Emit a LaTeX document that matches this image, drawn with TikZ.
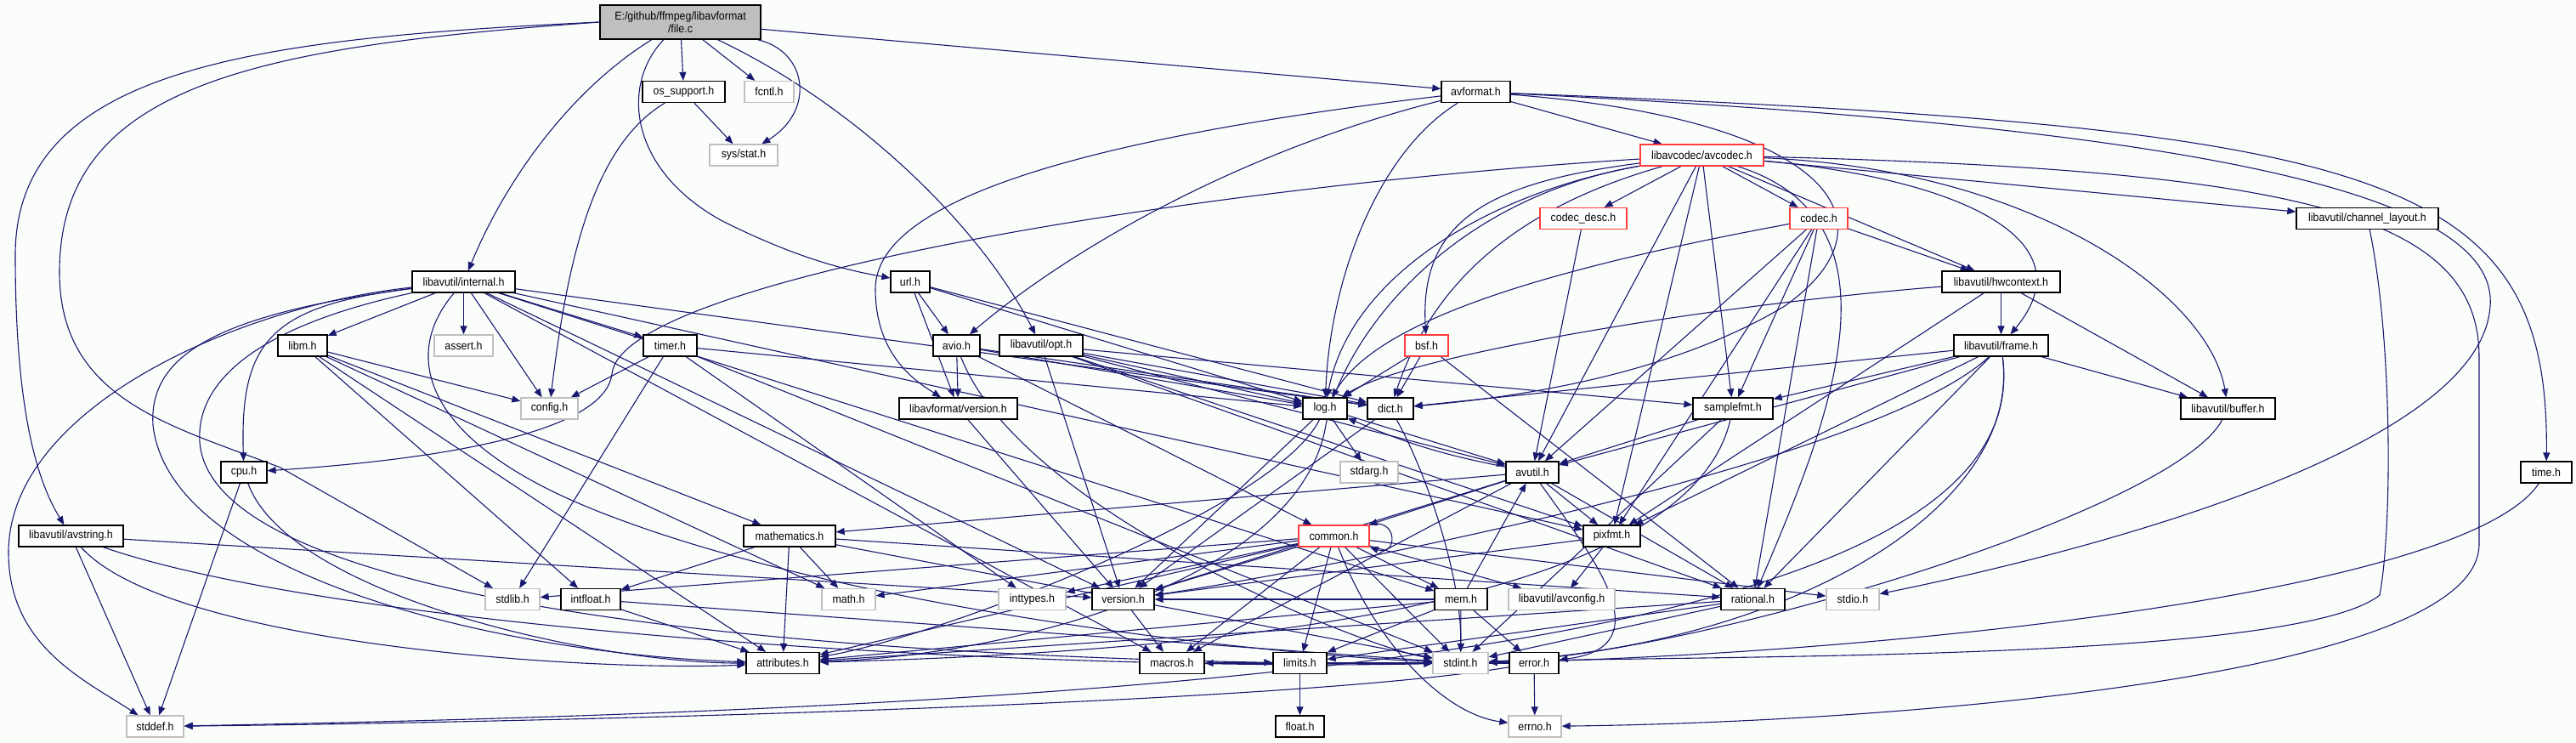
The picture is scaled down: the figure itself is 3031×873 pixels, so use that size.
\documentclass[tikz,border=0pt]{standalone}
\usepackage{fontspec}
\newfontfamily\dxfont{Liberation Sans}[FakeStretch=0.92]
\usetikzlibrary{arrows.meta}
\definecolor{edgec}{HTML}{191970}
\definecolor{bgc}{HTML}{FBFDFB}
\definecolor{grayb}{HTML}{BFBFBF}
\definecolor{redb}{HTML}{FF3B3B}
\pgfdeclarelayer{bg}
\pgfdeclarelayer{edges}
\pgfsetlayers{bg,edges,main}
\newcommand\dxnode[5]{\node[#1,minimum width=#4] (#2) at (#3) {#5};}
\tikzset{
  nbase/.style={rectangle, fill=white, minimum height=25, inner sep=0pt, line width=1.3pt, font=\dxfont\fontsize{13.5}{15}\selectfont},
  nb/.style={nbase, draw=black},
  ng/.style={nbase, draw=grayb},
  nr/.style={nbase, draw=redb},
  edg/.style={draw=edgec, line width=1.1pt, -{Triangle[length=10pt,width=8pt]}},
}
\begin{document}
\begin{tikzpicture}[x=1pt,y=-1pt]
\begin{pgfonlayer}{bg}
\fill[bgc] (0,0) rectangle (3031,873);
\end{pgfonlayer}
\useasboundingbox (0,0) rectangle (3031,873);
% nodes
\node[nb, fill=grayb, minimum width=189, minimum height=40, align=center] (fc) at (800.5,26) {E:/github/ffmpeg/libavformat\\/file.c};
\dxnode{nb}{os}{804.5,108}{97}{os\_support.h}
\dxnode{ng}{fcntl}{905,108}{58}{fcntl.h}
\dxnode{ng}{sysstat}{875,182.5}{80}{sys/stat.h}
\dxnode{nb}{af}{1736.5,108}{81}{avformat.h}
\dxnode{nr}{ac}{2002.5,182.5}{145}{libavcodec/avcodec.h}
\dxnode{nr}{cdesc}{1863,257}{102}{codec\_desc.h}
\dxnode{nr}{codec}{2140,257}{68}{codec.h}
\dxnode{nb}{chl}{2785.5,257}{167}{libavutil/channel\_layout.h}
\dxnode{nb}{url}{1071,331.5}{46}{url.h}
\dxnode{nb}{internal}{545.5,331.5}{121}{libavutil/internal.h}
\dxnode{nb}{hw}{2354.5,331.5}{139}{libavutil/hwcontext.h}
\dxnode{nb}{libm}{356,406.5}{58}{libm.h}
\dxnode{ng}{assert}{545.5,406.5}{69}{assert.h}
\dxnode{nb}{timer}{788.5,406.5}{63}{timer.h}
\dxnode{nb}{avio}{1125.5,406.5}{55}{avio.h}
\dxnode{nb}{opt}{1225,406.5}{98}{libavutil/opt.h}
\dxnode{nr}{bsf}{1678.5,406.5}{51}{bsf.h}
\dxnode{nb}{frame}{2354.5,406.5}{111}{libavutil/frame.h}
\dxnode{nb}{time}{2996,555.5}{60}{time.h}
\dxnode{ng}{config}{646.5,480.5}{67}{config.h}
\dxnode{nb}{lfver}{1127.5,480.5}{139}{libavformat/version.h}
\dxnode{nb}{log}{1559,480.5}{52}{log.h}
\dxnode{nb}{dict}{1636,480.5}{54}{dict.h}
\dxnode{nb}{sfmt}{2039,480.5}{94}{samplefmt.h}
\dxnode{nb}{buffer}{2621.5,480.5}{111}{libavutil/buffer.h}
\dxnode{nb}{cpu}{287,555.5}{54}{cpu.h}
\dxnode{ng}{stdarg}{1611,555.5}{68}{stdarg.h}
\dxnode{nb}{avutil}{1803,555.5}{62}{avutil.h}
\dxnode{nb}{avstr}{83.5,630.5}{123}{libavutil/avstring.h}
\dxnode{nb}{mathematics}{929,630.5}{108}{mathematics.h}
\dxnode{nr}{common}{1569.5,630.5}{83}{common.h}
\dxnode{nb}{pixfmt}{1896.5,630.5}{67}{pixfmt.h}
\dxnode{ng}{stdlib}{603,705}{64}{stdlib.h}
\dxnode{nb}{intfloat}{695,705}{70}{intfloat.h}
\dxnode{ng}{mathh}{998.5,705}{63}{math.h}
\dxnode{ng}{inttypes}{1214.5,705}{79}{inttypes.h}
\dxnode{nb}{version}{1321.5,705}{73}{version.h}
\dxnode{nb}{mem}{1719,705}{62}{mem.h}
\dxnode{ng}{avconf}{1837.5,705}{125}{libavutil/avconfig.h}
\dxnode{nb}{rational}{2062.5,705}{75}{rational.h}
\dxnode{ng}{stdio}{2180,705}{62}{stdio.h}
\dxnode{nb}{attr}{921,780}{86}{attributes.h}
\dxnode{nb}{macros}{1379,780}{76}{macros.h}
\dxnode{nb}{limits}{1529.5,780}{63}{limits.h}
\dxnode{ng}{stdint}{1718.5,780}{65}{stdint.h}
\dxnode{nb}{error}{1805,780}{58}{error.h}
\dxnode{nb}{float}{1529.5,854.5}{57}{float.h}
\dxnode{ng}{stddef}{182.5,854.5}{67}{stddef.h}
\dxnode{ng}{errno}{1806,854.5}{62}{errno.h}
\begin{pgfonlayer}{edges}
% file.c
\draw[edg] (fc.west) .. controls (300,45) and (18,80) .. (18,300) .. controls (18,470) and (40,560) .. (avstr);
\draw[edg] (fc.west) .. controls (300,55) and (70,100) .. (70,320) .. controls (70,470) and (200,500) .. (330,550) -- (stdlib);
\draw[edg] (fc) .. controls (680,100) and (600,200) .. (internal);
\draw[edg] (fc) -- (os);
\draw[edg] (fc) -- (fcntl);
\draw[edg] (fc) .. controls (950,60) and (960,130) .. (sysstat);
\draw[edg] (fc) .. controls (730,100) and (740,200) .. (850,260) .. controls (950,310) and (1010,320) .. (url);
\draw[edg] (fc) .. controls (1000,120) and (1150,260) .. (opt);
\draw[edg] (fc) -- (af);
% os_support
\draw[edg] (os) -- (sysstat);
\draw[edg] (os) .. controls (700,170) and (668,300) .. (config);
% avformat
\draw[edg] (af) -- (ac);
\draw[edg] (af) .. controls (2800,150) and (3000,200) .. (time);
\draw[edg] (af) .. controls (2600,150) and (2940,230) .. (2930,360) .. controls (2920,520) and (2500,640) .. (stdio);
\draw[edg] (af) .. controls (2150,140) and (2240,260) .. (2100,360) .. controls (1950,450) and (1750,470) .. (dict);
\draw[edg] (af) .. controls (1620,180) and (1565,330) .. (log);
\draw[edg] (af) .. controls (1450,180) and (1250,300) .. (avio);
\draw[edg] (af) .. controls (1300,160) and (1030,230) .. (1030,340) .. controls (1030,420) and (1080,450) .. (lfver);
% avcodec
\draw[edg] (ac) -- (cdesc);
\draw[edg] (ac) -- (codec);
\draw[edg] (ac) -- (hw);
\draw[edg] (ac) -- (chl);
\draw[edg] (ac) .. controls (2400,200) and (2600,350) .. (buffer);
\draw[edg] (ac) .. controls (2300,210) and (2460,280) .. (frame);
\draw[edg] (ac) .. controls (2700,200) and (2917,250) .. (2917,420) -- (2917,640) .. controls (2917,800) and (2200,850) .. (errno);
\draw[edg] (ac) .. controls (1400,220) and (730,330) .. (720,440) .. controls (710,520) and (450,545) .. (cpu);
\draw[edg] (ac) .. controls (1750,215) and (1670,260) .. (bsf);
\draw[edg] (ac) .. controls (1760,225) and (1590,320) .. (log);
\draw[edg] (ac) .. controls (1800,240) and (1690,320) .. (dict);
\draw[edg] (ac) .. controls (1700,235) and (1580,400) .. (1560,500) .. controls (1530,680) and (1200,770) .. (attr);
\draw[edg] (ac) -- (avutil);
\draw[edg] (ac) -- (pixfmt);
\draw[edg] (ac) -- (sfmt);
\draw[edg] (ac) .. controls (2250,260) and (2150,500) .. (rational);
% codec_desc, codec
\draw[edg] (cdesc) -- (avutil);
\draw[edg] (codec) -- (hw);
\draw[edg] (codec) .. controls (1800,320) and (1620,380) .. (log);
\draw[edg] (codec) -- (avutil);
\draw[edg] (codec) -- (pixfmt);
\draw[edg] (codec) -- (sfmt);
\draw[edg] (codec) -- (rational);
% bsf
\draw[edg] (bsf) -- (log);
\draw[edg] (bsf) -- (dict);
\draw[edg] (bsf) -- (rational);
% hwcontext
\draw[edg] (hw) -- (frame);
\draw[edg] (hw) -- (buffer);
\draw[edg] (hw) .. controls (2000,360) and (1650,420) .. (log);
\draw[edg] (hw) -- (pixfmt);
% frame
\draw[edg] (frame) -- (buffer);
\draw[edg] (frame) -- (dict);
\draw[edg] (frame) -- (avutil);
\draw[edg] (frame) -- (sfmt);
\draw[edg] (frame) -- (pixfmt);
\draw[edg] (frame) -- (rational);
\draw[edg] (frame) .. controls (2200,550) and (1500,680) .. (version);
\draw[edg] (frame) .. controls (2380,600) and (2100,760) .. (stdint);
\draw[edg] (frame) .. controls (2400,750) and (1500,830) .. (stddef);
% samplefmt
\draw[edg] (sfmt) -- (avutil);
\draw[edg] (sfmt) .. controls (2000,650) and (1700,760) .. (attr);
\draw[edg] (sfmt) -- (stdint);
% buffer, channel_layout, time
\draw[edg] (buffer) .. controls (2560,600) and (2000,770) .. (stdint);
\draw[edg] (chl) .. controls (2815,400) and (2815,620) .. (2800,700) .. controls (2700,780) and (2000,770) .. (stdint);
\draw[edg] (time) .. controls (2900,700) and (2200,770) .. (stdint);
% log, dict
\draw[edg] (log) -- (stdarg);
\draw[edg] (log) -- (avutil);
\draw[edg] (log) .. controls (1500,600) and (1100,750) .. (attr);
\draw[edg] (log) -- (version);
\draw[edg] (dict) .. controls (1680,560) and (1720,680) .. (stdint);
\draw[edg] (dict) -- (version);
% avutil
\draw[edg] (avutil) -- (common);
\draw[edg] (avutil) .. controls (1870,650) and (1960,760) .. (error);
\draw[edg] (avutil) -- (version);
\draw[edg] (avutil) -- (macros);
\draw[edg] (avutil) -- (mathematics);
\draw[edg] (avutil) -- (rational);
\draw[edg] (avutil) to[bend left=6] (log);
\draw[edg] (avutil) -- (pixfmt);
% common
\draw[edg] (common) .. controls (1620,760) and (1700,840) .. (errno);
\draw[edg] (common) -- (inttypes);
\draw[edg] (common) -- (limits);
\draw[edg] (common) -- (mathh);
\draw[edg] (common) -- (stdint);
\draw[edg] (common) -- (stdio);
\draw[edg] (common) -- (stdlib);
\draw[edg] (common) -- (attr);
\draw[edg] (common) -- (macros);
\draw[edg] (common) -- (version);
\draw[edg] (common) -- (avconf);
\draw[edg] (common) -- (mem);
\draw[edg] (common.north east) .. controls (1645,608) and (1645,655) .. (common.south east);
% mem
\draw[edg] (mem) -- (limits);
\draw[edg] (mem) -- (stdint);
\draw[edg] (mem) -- (attr);
\draw[edg] (mem) -- (error);
\draw[edg] (mem) -- (avutil);
\draw[edg] (mem) -- (version);
% pixfmt, rational, error, version, limits
\draw[edg] (pixfmt) -- (avconf);
\draw[edg] (pixfmt) -- (version);
\draw[edg] (rational) -- (stdint);
\draw[edg] (rational) -- (limits);
\draw[edg] (rational) -- (attr);
\draw[edg] (error) -- (errno);
\draw[edg] (error) .. controls (1500,830) and (600,850) .. (stddef);
\draw[edg] (error) -- (macros);
\draw[edg] (version) -- (macros);
\draw[edg] (limits) -- (float);
% mathematics, intfloat, libm
\draw[edg] (mathematics) -- (stdint);
\draw[edg] (mathematics) -- (mathh);
\draw[edg] (mathematics) -- (attr);
\draw[edg] (mathematics) -- (rational);
\draw[edg] (mathematics) -- (intfloat);
\draw[edg] (intfloat) -- (stdint);
\draw[edg] (intfloat) -- (attr);
\draw[edg] (libm) -- (mathh);
\draw[edg] (libm) -- (config);
\draw[edg] (libm) -- (attr);
\draw[edg] (libm) -- (intfloat);
\draw[edg] (libm) -- (mathematics);
% timer
\draw[edg] (timer) -- (config);
\draw[edg] (timer) -- (stdlib);
\draw[edg] (timer) -- (stdint);
\draw[edg] (timer) -- (inttypes);
\draw[edg] (timer) -- (log);
% cpu
\draw[edg] (cpu) -- (stddef);
\draw[edg] (cpu) .. controls (340,700) and (700,780) .. (attr);
% avstring
\draw[edg] (avstr) -- (stddef);
\draw[edg] (avstr) .. controls (400,740) and (1200,790) .. (stdint);
\draw[edg] (avstr) .. controls (200,760) and (700,790) .. (attr);
\draw[edg] (avstr) -- (version);
% internal
\draw[edg] (internal) .. controls (280,360) and (10,480) .. (10,650) .. controls (10,760) and (100,800) .. (stddef);
\draw[edg] (internal) .. controls (250,370) and (175,420) .. (180,500) .. controls (200,680) and (600,770) .. (attr);
\draw[edg] (internal) .. controls (320,380) and (230,440) .. (235,520) .. controls (250,720) and (1000,770) .. (limits);
\draw[edg] (internal) .. controls (320,360) and (282,400) .. (cpu);
\draw[edg] (internal) -- (libm);
\draw[edg] (internal) -- (assert);
\draw[edg] (internal) -- (timer);
\draw[edg] (internal) -- (config);
\draw[edg] (internal) .. controls (470,420) and (500,520) .. (700,600) .. controls (1000,720) and (1500,770) .. (stdint);
\draw[edg] (internal) -- (dict);
\draw[edg] (internal) -- (macros);
\draw[edg] (internal) -- (mem);
\draw[edg] (internal) -- (pixfmt);
\draw[edg] (internal) -- (version);
% url
\draw[edg] (url) -- (avio);
\draw[edg] (url) -- (lfver);
\draw[edg] (url) -- (dict);
\draw[edg] (url) -- (log);
% avio
\draw[edg] (avio) -- (lfver);
\draw[edg] (avio) -- (common);
\draw[edg] (avio) -- (dict);
\draw[edg] (avio) -- (log);
\draw[edg] (avio) .. controls (1200,600) and (1600,760) .. (stdint);
\draw[edg] (lfver) -- (version);
% opt
\draw[edg] (opt) -- (rational);
\draw[edg] (opt) -- (avutil);
\draw[edg] (opt) -- (dict);
\draw[edg] (opt) -- (log);
\draw[edg] (opt) -- (pixfmt);
\draw[edg] (opt) -- (sfmt);
\draw[edg] (opt) -- (version);
\end{pgfonlayer}
\end{tikzpicture}
\end{document}
